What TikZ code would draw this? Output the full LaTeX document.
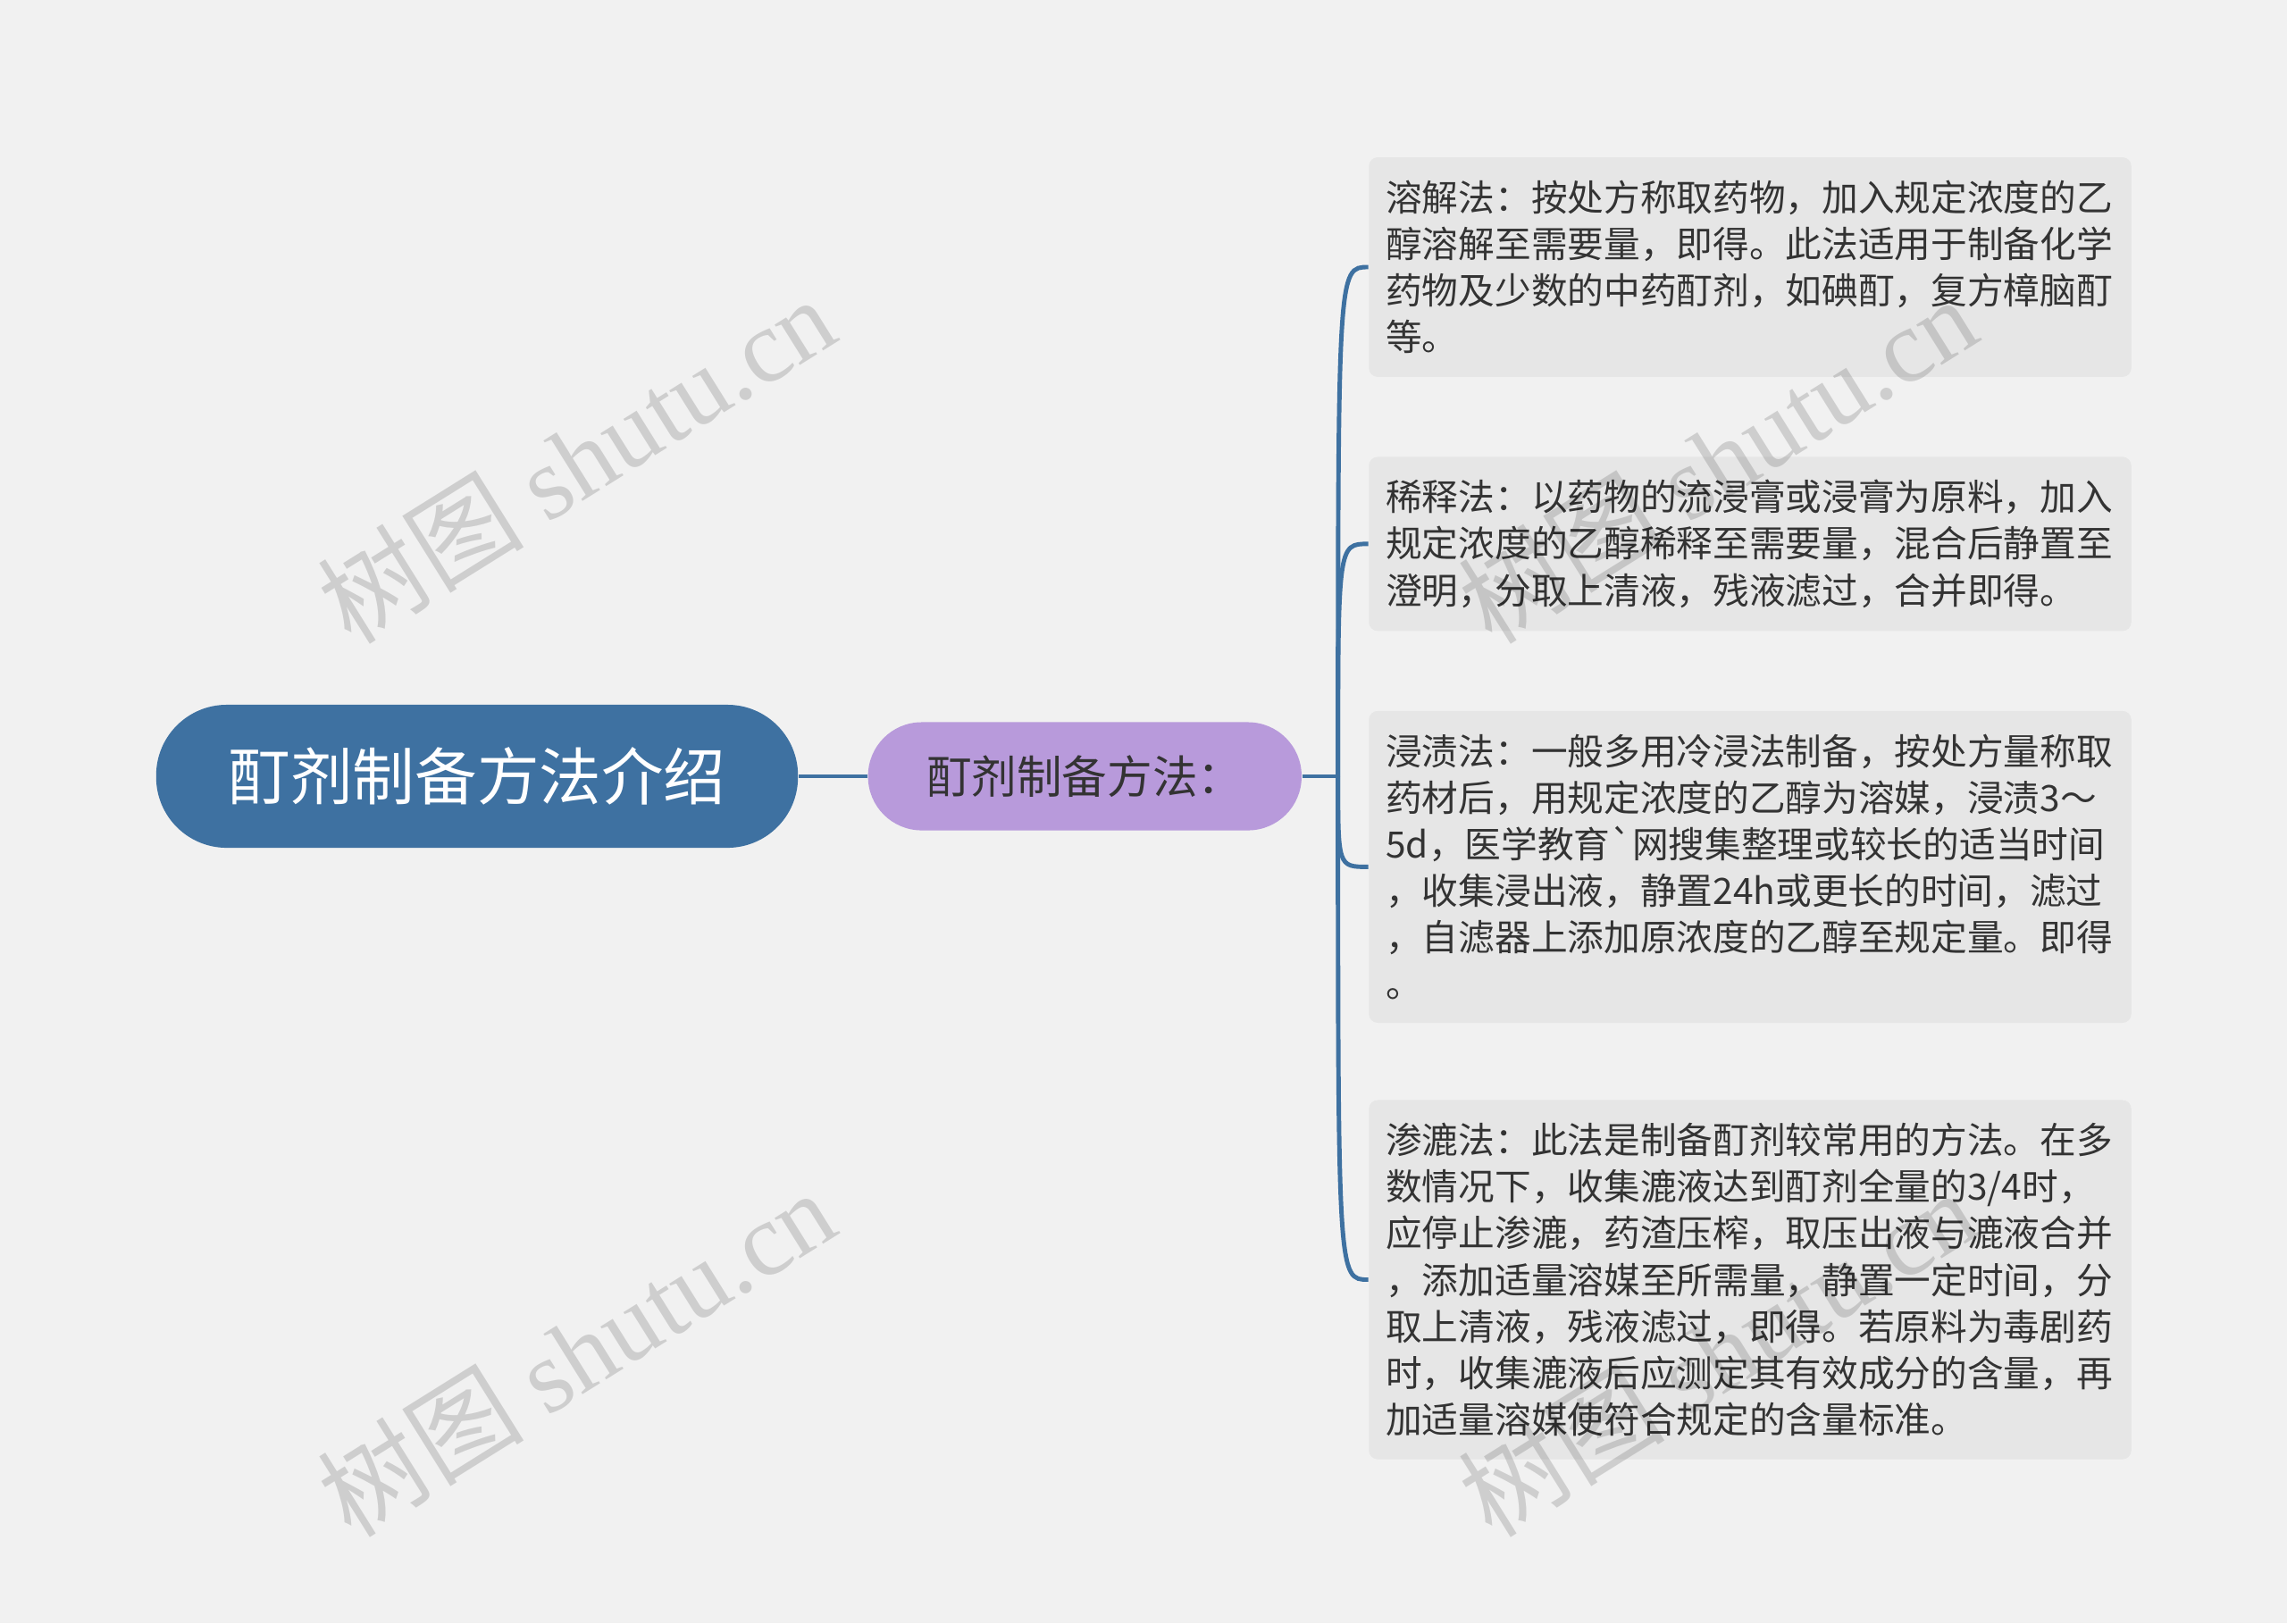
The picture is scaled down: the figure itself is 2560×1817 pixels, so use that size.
\documentclass[tikz,border=0pt]{standalone}
\usepackage{fontspec}
\setmainfont{Noto Sans CJK SC}[Ligatures=TeXOff]
\newfontfamily\wmfont{Liberation Serif}
\usepackage{tikz}
\usetikzlibrary{
  positioning,
  calc
}
\definecolor{rootBlue}{HTML}{3E71A1}
\definecolor{subPurple}{HTML}{B89ADB}
\definecolor{leafGray}{HTML}{E6E6E6}
\definecolor{bgGray}{HTML}{F1F1F1}
\definecolor{textGray}{HTML}{333333}
\tikzstyle{rootnode}=[fill=rootBlue, text=white, rounded corners=0.79cm, minimum width=7.18cm, minimum height=1.6cm, font=\fontsize{19.8pt}{24pt}\selectfont]
\tikzstyle{subnode}=[fill=subPurple, text=textGray, rounded corners=0.6cm, minimum width=4.85cm, minimum height=1.21cm, font=\fontsize{14.4pt}{17pt}\selectfont]
\tikzstyle{leaf}=[fill=leafGray, text=textGray, rounded corners=0.1cm, text width=8.15cm, align=left, inner xsep=0.19cm, inner ysep=0.26cm, font=\fontsize{11.57pt}{14.8pt}\selectfont]
\tikzstyle{branch}=[draw=rootBlue, line width=1.4pt]
\tikzstyle{watermark}=[rotate=32, text=black, opacity=0.14, font=\fontsize{33pt}{38pt}\selectfont]

\begin{document}
\begin{tikzpicture}[x=0.01cm, y=-0.01cm]
  % 背景
  \fill[bgGray] (0,0) rectangle (2560,1817);
  \useasboundingbox (0,0) rectangle (2560,1817);

  % 中心と主題
  \node[rootnode] (root) at (534,869) {酊剂制备方法介绍};
  \node[subnode, right=0.77cm of root] (method) {酊剂制备方法：};
  \coordinate[right=0.4cm of method] (hub);

  % 各方法
  \node[leaf] (rongjie) at (1959,299) {溶解法：按处方称取药物，加入规定浓度的乙\\醇溶解至需要量，即得。此法适用于制备化学\\药物及少数的中药酊剂，如碘酊，复方樟脑酊\\等。};
  \node[leaf, below=0.88cm of rongjie] (xishi) {稀释法：以药物的流浸膏或浸膏为原料，加入\\规定浓度的乙醇稀释至需要量，混合后静置至\\澄明，分取上清液，残液滤过，合并即得。};
  \node[leaf, below=0.88cm of xishi] (jinzi) {浸渍法：一般多用冷浸法制备，按处方量称取\\药材后，用规定浓度的乙醇为溶媒，浸渍3～\\5d，医学教育`网搜集整理或较长的适当时间\\，收集浸出液，静置24h或更长的时间，滤过\\，自滤器上添加原浓度的乙醇至规定量。即得\\。};
  \node[leaf, below=0.85cm of jinzi] (shenlu) {渗漉法：此法是制备酊剂较常用的方法。在多\\数情况下，收集漉液达到酊剂全量的3/4时，\\应停止渗漉，药渣压榨，取压出液与漉液合并\\，添加适量溶媒至所需量，静置一定时间，分\\取上清液，残液滤过，即得。若原料为毒剧药\\时，收集漉液后应测定其有效成分的含量，再\\加适量溶媒使符合规定的含量标准。};

  % 接続線
  \draw[branch] (root) -- (method);
  \draw[branch] (method) -- (hub);
  \foreach \leaf in {rongjie, xishi, jinzi, shenlu}
    \draw[branch] (hub) .. controls (hub |- \leaf.west) and (hub |- \leaf.west) .. (\leaf.west);

  % 透かし
  \node[watermark] (wmA) at (645,514) {树图 {\wmfont shutu.cn}};
  \node[watermark] (wmB) at (1922,514) {树图 {\wmfont shutu.cn}};
  \node[watermark] (wmC) at (645,1514) {树图 {\wmfont shutu.cn}};
  \node[watermark] (wmD) at (1922,1514) {树图 {\wmfont shutu.cn}};
\end{tikzpicture}
\end{document}
